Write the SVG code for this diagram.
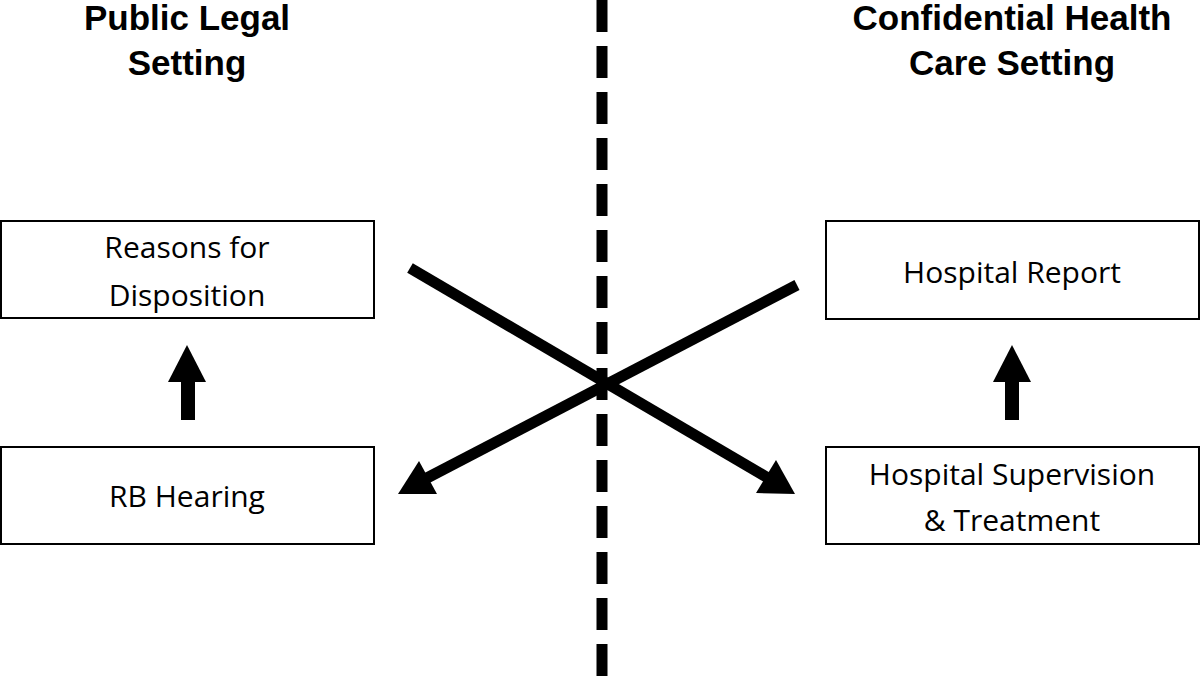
<svg xmlns="http://www.w3.org/2000/svg" width="1200" height="690" viewBox="0 0 1200 690">
<style>
.t{font-family:"Liberation Sans",Arial,sans-serif;font-weight:bold;font-size:35px;text-anchor:middle;fill:#000}
.b{font-family:"Open Sans","Liberation Sans",sans-serif;font-size:30px;text-anchor:middle;fill:#000}
.n{fill:#fff;stroke:#000;stroke-width:2}
.c{stroke:#000;stroke-width:11;fill:none}
</style>
<rect width="1200" height="690" fill="#fff"/>
<text class="t" x="187" y="30">Public Legal</text>
<text class="t" x="187" y="75">Setting</text>
<text class="t" x="1012" y="30">Confidential Health</text>
<text class="t" x="1012" y="75">Care Setting</text>
<g id="connectors">
<line class="c" x1="602" y1="0" x2="602" y2="690" stroke-dasharray="32,14"/>
<line class="c" x1="410" y1="268" x2="768" y2="478"/>
<polygon points="795,494 756,493 776,460"/>
<line class="c" x1="797" y1="285" x2="425" y2="479"/>
<polygon points="398,494 419,461 437,494"/>
<rect x="181" y="378" width="14" height="42" fill="#000"/>
<polygon points="168,382 206,382 187,345"/>
<rect x="1005" y="378" width="14" height="42" fill="#000"/>
<polygon points="993,382 1031,382 1012,345"/>
</g>
<g id="reasons"><rect class="n" x="1" y="221" width="373" height="97"/><text class="b" x="187" y="258">Reasons for</text><text class="b" x="187" y="306">Disposition</text></g>
<g id="rb"><rect class="n" x="1" y="447" width="373" height="97"/><text class="b" x="187" y="507">RB Hearing</text></g>
<g id="report"><rect class="n" x="826" y="221" width="373" height="98"/><text class="b" x="1012" y="283">Hospital Report</text></g>
<g id="supervision"><rect class="n" x="826" y="447" width="373" height="97"/><text class="b" x="1012" y="485">Hospital Supervision</text><text class="b" x="1012" y="531">&amp; Treatment</text></g>
</svg>
